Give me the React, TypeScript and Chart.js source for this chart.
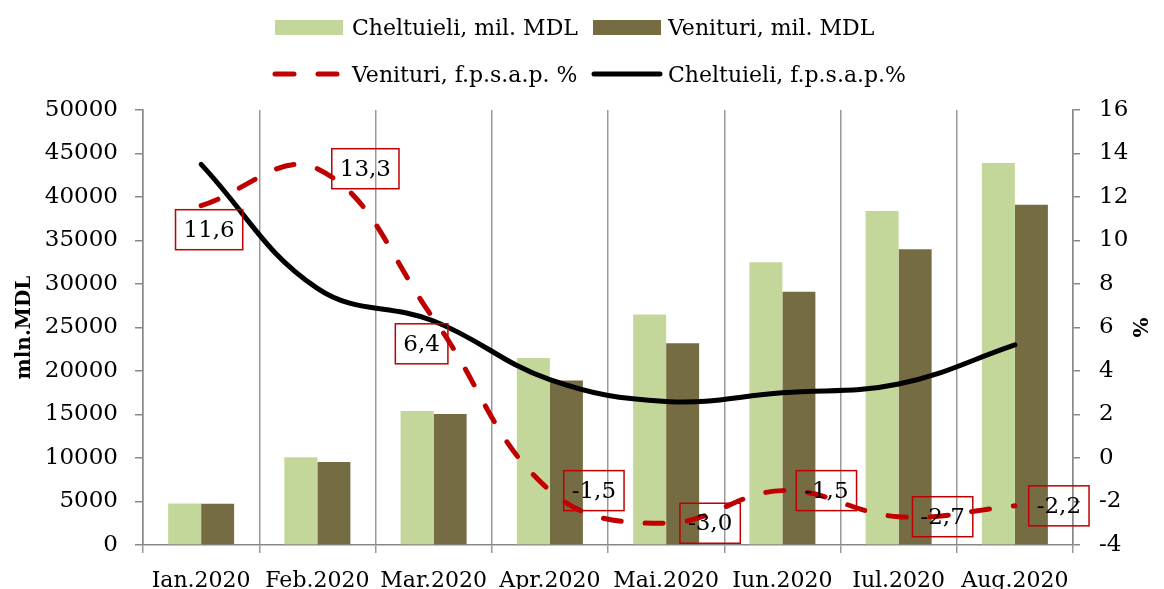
import React, { useEffect, useRef } from 'react';
import { Chart, registerables } from 'chart.js';

Chart.register(...registerables);

const categories = ['Ian.2020', 'Feb.2020', 'Mar.2020', 'Apr.2020', 'Mai.2020', 'Iun.2020', 'Iul.2020', 'Aug.2020'];
const cheltuieliMDL = [4760, 10100, 15400, 21500, 26500, 32500, 38400, 43900];
const venituriMDL = [4740, 9550, 15050, 18900, 23200, 29100, 34000, 39100];
const venituriPct = [11.6, 13.3, 6.4, -1.5, -3.0, -1.5, -2.7, -2.2];
const cheltuieliPct = [13.5, 7.8, 6.3, 3.6, 2.6, 3.0, 3.4, 5.2];
const leftTicks = { min: 0, max: 50000, step: 5000 };
const rightTicks = { min: -4, max: 16, step: 2 };

// label box offsets (px) relative to each Venituri % point
const labelOffsets = [[8, 24], [48, 0], [-12, 25], [44, 0], [44, 0], [44, 0], [44, 0], [44, 0]];

const FONT = 'DejaVu Serif';
const C_LIGHT = '#c4d79b';
const C_DARK = '#766c43';
const C_RED = '#c00000';

const legendPlugin = {
  id: 'customLegend',
  afterDraw(chart: any) {
    const ctx = chart.ctx;
    const ds = chart.data.datasets;
    ctx.save();
    ctx.font = `22px "${FONT}"`;
    ctx.textBaseline = 'middle';
    ctx.textAlign = 'left';
    // row 1
    ctx.fillStyle = C_LIGHT;
    ctx.fillRect(275, 20, 68, 15);
    ctx.fillStyle = C_DARK;
    ctx.fillRect(593, 20, 68, 15);
    ctx.fillStyle = '#000';
    ctx.fillText(ds[0].label, 352, 29);
    ctx.fillText(ds[1].label, 668, 29);
    // row 2
    ctx.lineCap = 'round';
    ctx.lineWidth = 5;
    ctx.strokeStyle = C_RED;
    ctx.beginPath();
    ctx.moveTo(275, 74); ctx.lineTo(294, 74);
    ctx.moveTo(318, 74); ctx.lineTo(337, 74);
    ctx.stroke();
    ctx.strokeStyle = '#000';
    ctx.beginPath();
    ctx.moveTo(594, 74); ctx.lineTo(660, 74);
    ctx.stroke();
    ctx.fillText(ds[2].label, 352, 76);
    ctx.fillText(ds[3].label, 668, 76);
    ctx.restore();
  },
};

const labelPlugin = {
  id: 'boxLabels',
  afterDatasetsDraw(chart: any) {
    const ctx = chart.ctx;
    const meta = chart.getDatasetMeta(2);
    const values = chart.data.datasets[2].data as number[];
    ctx.save();
    ctx.font = `23px "${FONT}"`;
    ctx.textAlign = 'center';
    ctx.textBaseline = 'middle';
    meta.data.forEach((pt: any, i: number) => {
      const txt = values[i].toFixed(1).replace('.', ',');
      const [dx, dy] = labelOffsets[i];
      const cx = pt.x + dx;
      const cy = pt.y + dy;
      const w = ctx.measureText(txt).width + 16;
      const h = 40;
      ctx.strokeStyle = C_RED;
      ctx.lineWidth = 1.5;
      ctx.strokeRect(cx - w / 2, cy - h / 2, w, h);
      ctx.fillStyle = '#000';
      ctx.fillText(txt, cx, cy + 1);
    });
    ctx.restore();
  },
};

export default function App() {
  const ref = useRef<HTMLCanvasElement | null>(null);

  useEffect(() => {
    if (!ref.current) return;
    const chart = new Chart(ref.current, {
      type: 'bar',
      data: {
        labels: categories,
        datasets: [
          {
            type: 'bar',
            label: 'Cheltuieli, mil. MDL',
            data: cheltuieliMDL,
            backgroundColor: C_LIGHT,
            yAxisID: 'y',
            order: 2,
            categoryPercentage: 0.568,
            barPercentage: 1,
          },
          {
            type: 'bar',
            label: 'Venituri, mil. MDL',
            data: venituriMDL,
            backgroundColor: C_DARK,
            yAxisID: 'y',
            order: 2,
            categoryPercentage: 0.568,
            barPercentage: 1,
          },
          {
            type: 'line',
            label: 'Venituri, f.p.s.a.p. %',
            data: venituriPct,
            borderColor: C_RED,
            borderWidth: 5,
            borderDash: [18, 24],
            borderCapStyle: 'round',
            tension: 0.4,
            pointRadius: 0,
            fill: false,
            yAxisID: 'y1',
            order: 0,
          },
          {
            type: 'line',
            label: 'Cheltuieli, f.p.s.a.p.%',
            data: cheltuieliPct,
            borderColor: '#000',
            borderWidth: 5,
            borderCapStyle: 'round',
            tension: 0.4,
            pointRadius: 0,
            fill: false,
            yAxisID: 'y1',
            order: 1,
          },
        ] as any,
      },
      options: {
        animation: false,
        responsive: false,
        layout: { padding: { top: 110, left: 0, right: 0, bottom: 0 } },
        plugins: {
          legend: { display: false },
          tooltip: { enabled: false },
        },
        scales: {
          x: {
            grid: { offset: true, color: '#999', lineWidth: 1.5, tickLength: 8, drawTicks: true },
            border: { color: '#888', width: 1.5 },
            ticks: { font: { family: FONT, size: 22 }, color: '#000', padding: 15, maxRotation: 0, autoSkip: false },
            afterFit: (s: any) => { s.height = 44; },
          },
          y: {
            position: 'left',
            min: leftTicks.min,
            max: leftTicks.max,
            ticks: { stepSize: leftTicks.step, font: { family: FONT, size: 23 }, color: '#000', padding: 17, callback: (v: any) => String(v) },
            grid: { drawOnChartArea: false, tickLength: 8, color: '#888', lineWidth: 1.5 },
            border: { color: '#888', width: 1.5 },
            title: { display: true, text: 'mln.MDL', font: { family: FONT, size: 20, weight: 'bold' }, color: '#000', padding: { top: 13, bottom: 0 } },
            afterFit: (s: any) => { s.width = 143; },
          },
          y1: {
            position: 'right',
            min: rightTicks.min,
            max: rightTicks.max,
            ticks: { stepSize: rightTicks.step, font: { family: FONT, size: 23 }, color: '#000', padding: 19, callback: (v: any) => String(v) },
            grid: { drawOnChartArea: false, tickLength: 7, color: '#888', lineWidth: 1.5 },
            border: { color: '#888', width: 1.5 },
            title: { display: true, text: '%', font: { family: FONT, size: 21, weight: 'bold' }, color: '#000', padding: { top: 13, bottom: 0 } },
            afterFit: (s: any) => { s.width = 91; },
          },
        },
      } as any,
      plugins: [legendPlugin, labelPlugin],
    });
    return () => chart.destroy();
  }, []);

  return (
    <div style={{ position: 'absolute', left: 0, top: 0, width: 1164, height: 589, background: '#fff' }}>
      <canvas ref={ref} width={1164} height={589} style={{ display: 'block' }} />
    </div>
  );
}
